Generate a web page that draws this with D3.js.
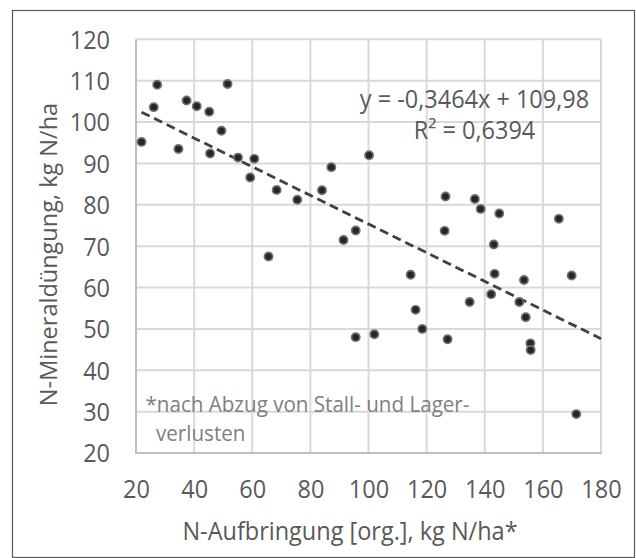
<!DOCTYPE html>
<html>
<head>
<meta charset="utf-8">
<style>
body { margin: 0; background: #fff; }
text { font-family: "Open Sans", "Noto Sans", sans-serif; }
.grid line { stroke: #d9d9d9; stroke-width: 2; }
.axis text { fill: #595959; font-size: 23.5px; }
</style>
</head>
<body>
<div id="chart"></div>
<script src="https://cdn.jsdelivr.net/npm/d3@7"></script>
<script>
// N-Aufbringung org. (x) vs N-Mineraldüngung (y)
var nOrg = [21.9, 27.3, 26.1, 34.6, 37.4, 40.9, 45.2, 51.5, 49.4, 45.5,
            55.1, 60.7, 59.3, 68.4, 75.5, 84.0, 87.2, 100.2, 95.6, 91.4,
            65.6, 95.6, 102.0, 126.5, 136.6, 138.6, 145.0, 165.5, 126.2, 143.1,
            114.5, 143.4, 153.5, 169.9, 142.2, 134.8, 151.9, 116.2, 154.1, 118.5,
            127.2, 155.7, 155.8, 171.5];
var nMin = [95.2, 109.0, 103.6, 93.5, 105.2, 103.8, 102.5, 109.2, 97.9, 92.4,
            91.4, 91.1, 86.6, 83.6, 81.2, 83.5, 89.1, 92.0, 73.8, 71.5,
            67.5, 48.0, 48.7, 82.0, 81.4, 79.0, 77.9, 76.6, 73.7, 70.4,
            63.1, 63.3, 61.8, 62.9, 58.4, 56.5, 56.5, 54.6, 52.8, 50.0,
            47.5, 46.5, 44.9, 29.4];
var xTicks = [20, 40, 60, 80, 100, 120, 140, 160, 180];
var yTicks = [20, 30, 40, 50, 60, 70, 80, 90, 100, 110, 120];
var slope = -0.3464, intercept = 109.98;
var trendRange = [21.9, 180];
var eqLabel = "y = -0,3464x + 109,98";
var r2Label = "R² = 0,6394";
var xTitle = "N-Aufbringung [org.], kg N/ha*";
var yTitle = "N-Mineraldüngung, kg N/ha";
var note = ["*nach Abzug von Stall- und Lager-", "verlusten"];

var W = 636, H = 558;
var plot = { left: 136, top: 39.3, right: 601, bottom: 453 };
var fs = 23.5;
var sy = 1.05; // glyphs a touch taller than wide in the original

var svg = d3.select("#chart").append("svg")
    .attr("width", W).attr("height", H);

svg.append("rect")
    .attr("x", 12.5).attr("y", 10.5)
    .attr("width", 622).attr("height", 547)
    .attr("fill", "#fff").attr("stroke", "#595959").attr("stroke-width", 1.2);

var x = d3.scaleLinear().domain([20, 180]).range([plot.left, plot.right]);
var y = d3.scaleLinear().domain([20, 120]).range([plot.bottom, plot.top]);

// grid
var grid = svg.append("g").attr("class", "grid");
grid.selectAll("line.v").data(xTicks.slice(1)).enter().append("line")
    .attr("x1", function(d) { return x(d); }).attr("x2", function(d) { return x(d); })
    .attr("y1", plot.top).attr("y2", plot.bottom);
grid.selectAll("line.h").data(yTicks.slice(1)).enter().append("line")
    .attr("y1", function(d) { return y(d); }).attr("y2", function(d) { return y(d); })
    .attr("x1", plot.left).attr("x2", plot.right);

// axis lines
svg.append("line").attr("x1", plot.left).attr("x2", plot.left)
    .attr("y1", plot.top).attr("y2", plot.bottom + 1)
    .attr("stroke", "#bfbfbf").attr("stroke-width", 2);
svg.append("line").attr("x1", plot.left - 1).attr("x2", plot.right + 1)
    .attr("y1", plot.bottom).attr("y2", plot.bottom)
    .attr("stroke", "#bfbfbf").attr("stroke-width", 2);

// axes (labels only)
var gx = svg.append("g").attr("class", "axis")
    .attr("transform", "translate(0," + plot.bottom + ")")
    .call(d3.axisBottom(x).tickValues(xTicks).tickSize(0).tickPadding(0));
gx.select(".domain").remove();
gx.selectAll("text")
    .attr("dy", 0)
    .attr("y", 36 / sy + 0.357 * fs)
    .attr("transform", "scale(1," + sy + ")");

var gy = svg.append("g").attr("class", "axis")
    .attr("transform", "translate(" + plot.left + ",0)")
    .call(d3.axisLeft(y).tickValues(yTicks).tickSize(0).tickPadding(26));
gy.select(".domain").remove();
gy.selectAll("text")
    .attr("dy", "0.36em")
    .attr("transform", "scale(1," + sy + ")");

// trend line
svg.append("line")
    .attr("x1", x(trendRange[0])).attr("y1", y(slope * trendRange[0] + intercept))
    .attr("x2", x(trendRange[1])).attr("y2", y(slope * trendRange[1] + intercept))
    .attr("stroke", "#404040").attr("stroke-width", 2.8)
    .attr("stroke-dasharray", "9,5");

// points
var pts = nOrg.map(function(v, i) { return { x: v, y: nMin[i] }; });
svg.append("g").selectAll("circle").data(pts).enter().append("circle")
    .attr("cx", function(d) { return x(d.x); })
    .attr("cy", function(d) { return y(d.y); })
    .attr("r", 4.1)
    .attr("fill", "#262626")
    .attr("stroke", "#707070")
    .attr("stroke-width", 1.7);

function label(txt, cx, cy, size, color, anchor, rot) {
    var g = svg.append("g")
        .attr("transform", "translate(" + cx + "," + cy + ")" + (rot ? " rotate(-90)" : " scale(1," + sy + ")"));
    g.append("text")
        .attr("text-anchor", anchor)
        .attr("dy", "0.36em")
        .attr("font-size", size)
        .attr("fill", color)
        .text(txt);
}

label(eqLabel, 474.5, 99, fs, "#595959", "middle");
label(r2Label, 474.5, 130, fs, "#595959", "middle");
label(xTitle, 350, 531, fs, "#595959", "middle");
label(yTitle, 48.7, 254.5, fs, "#595959", "middle", true);
label(note[0], 145.5, 404, 20.6, "#808080", "start");
label(note[1], 156, 433.5, 20.6, "#808080", "start");
</script>
</body>
</html>
